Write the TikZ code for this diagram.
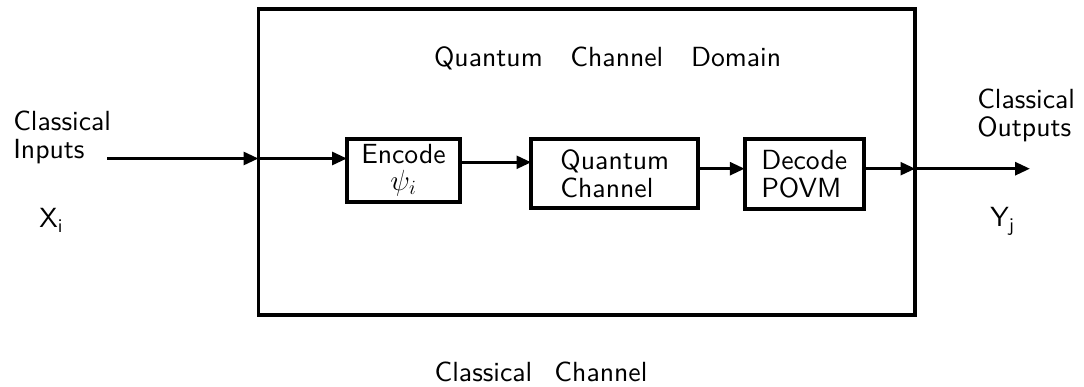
\documentclass[tikz,border=0pt]{standalone}
\usepackage{fontspec}
\setsansfont{lmsans10-regular.otf}
\usepackage{tikz}
\usetikzlibrary{arrows.meta,positioning}

\begin{document}
\begin{tikzpicture}[
    every node/.style={font=\sffamily\fontsize{19.7}{20}\selectfont, inner sep=0pt},
    blk/.style={draw, line width=2.8pt, outer sep=0pt, inner sep=0pt},
    flow/.style={line width=2.3pt, -{Triangle[length=10.5pt,width=9pt]}}
  ]
    \useasboundingbox (0,0) rectangle (27.1,9.675);
    \node[blk, minimum width=16.42cm, minimum height=7.665cm] (dom) at (14.6725,5.625) {};
    \node[blk, minimum width=2.825cm, minimum height=1.5675cm, align=center] (enc) at (10.0875,5.416) {Encode\\[-1pt]$\psi_i$\hspace{0.3em}};
    \node[blk, minimum width=4.175cm, minimum height=1.7175cm, align=left] (qc) at (15.37,5.341) {Quantum\\Channel};
    \node[blk, minimum width=2.975cm, minimum height=1.7425cm, align=left] (dec) at (20.105,5.321) {Decode\\POVM};
    \node[anchor=base] (title) at (15.19,8.0) {Quantum\hspace{1em}Channel\hspace{1em}Domain};
    \node[anchor=base] (cch) at (13.525,0.1325) {Classical\hspace{0.8em}Channel};
    \node[align=left,anchor=north west] (cin) at (0.325,6.9125) {Classical\\Inputs};
    \node[anchor=base west] (xi) at (0.975,3.975) {X$_{\mathsf{i}}$};
    \node[align=left,anchor=north west] (cout) at (24.425,7.45) {Classical\\Outputs};
    \node[anchor=base west] (yj) at (24.75,4.0) {Y$_{\mathsf{j}}$};
    \coordinate (in) at (2.675,5.7125);
    \coordinate (hi) at (12.4,5.6175);
    \coordinate (out) at (25.75,5.4575);
    \draw[flow] (in) -- (in -| dom.west);
    \draw[flow] (in -| dom.west) -- (in -| enc.west);
    \draw[flow] (enc.east |- hi) -- (qc.west |- hi);
    \draw[flow] (qc.east |- out) -- (dec.west |- out);
    \draw[flow] (dec.east |- out) -- (dom.east |- out);
    \draw[flow] (dom.east |- out) -- (out);
  \end{tikzpicture}
\end{document}
